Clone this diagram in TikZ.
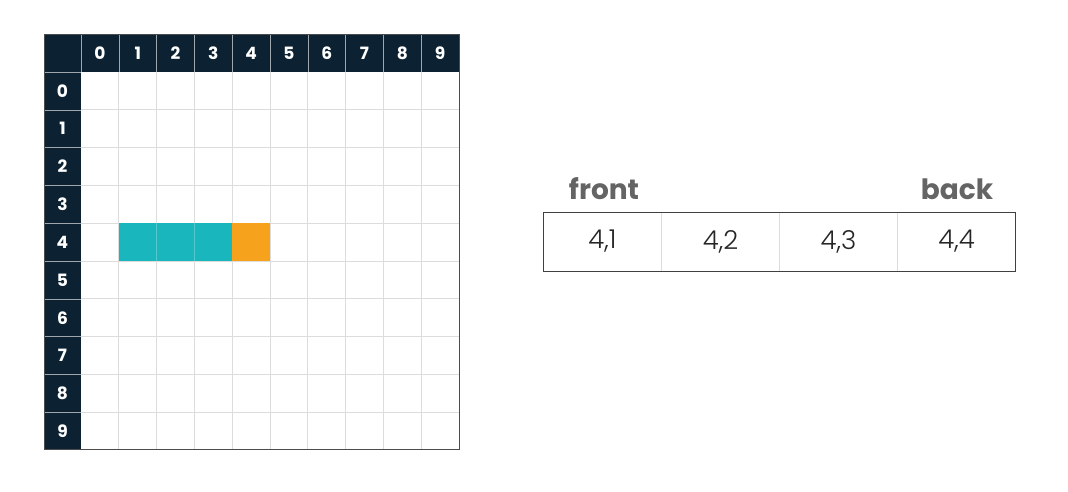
\documentclass[tikz,border=0pt]{standalone}
\usepackage{fontspec}
\setmainfont{Poppins}
\newfontfamily\lightfont{Poppins}[UprightFont=* Light]
\newfontfamily\boldfont{Poppins}[UprightFont=* Bold]
\definecolor{navy}{RGB}{12,34,50}
\definecolor{tealc}{RGB}{26,182,190}
\definecolor{orangec}{RGB}{247,162,28}
\definecolor{gridc}{RGB}{220,220,220}
\definecolor{labelc}{RGB}{100,100,100}
\begin{document}
\begin{tikzpicture}[x=1pt,y=-1pt,
  hdr/.style={font=\boldfont\fontsize{17}{17}\selectfont, text=white},
  qlab/.style={font=\boldfont\fontsize{28}{28}\selectfont, text=labelc},
  qval/.style={font=\lightfont\fontsize{26}{26}\selectfont, text=black!85},
  cellbox/.style={minimum width=118pt, minimum height=59pt, inner sep=0pt, outer sep=0pt}]
\useasboundingbox (0,0) rectangle (1068,491);
\fill[white] (0,0) rectangle (1068,491);
% grid
\def\cw{37.8}
\fill[navy] (44,34) rectangle (459,72);
\fill[navy] (44,34) rectangle (81,449);
\foreach \i in {1,...,9} {
  \draw[gridc, line width=0.8pt] ({81+\i*\cw},72) -- ({81+\i*\cw},449);
  \draw[gridc, line width=0.8pt] (81,{72+\i*\cw}) -- (459,{72+\i*\cw});
  \draw[white!60!navy, line width=0.6pt] ({81+\i*\cw},34) -- ({81+\i*\cw},72);
  \draw[white!60!navy, line width=0.6pt] (44,{72+\i*\cw}) -- (81,{72+\i*\cw});
}
\draw[white!60!navy, line width=0.6pt] (81,34) -- (81,72);
\draw[white!60!navy, line width=0.6pt] (44,72) -- (81,72);
\fill[tealc] ({81+\cw},{72+4*\cw}) rectangle ({81+4*\cw},{72+5*\cw});
\fill[orangec] ({81+4*\cw},{72+4*\cw}) rectangle ({81+5*\cw},{72+5*\cw});
\draw[white!25!tealc, line width=0.6pt] ({81+2*\cw},{72+4*\cw}) -- ({81+2*\cw},{72+5*\cw});
\draw[white!25!tealc, line width=0.6pt] ({81+3*\cw},{72+4*\cw}) -- ({81+3*\cw},{72+5*\cw});
\draw[black!70, line width=1pt] (44,34) rectangle (459,449);
\foreach \i in {0,...,9} {
  \node[hdr] (c\i) at ({81+(\i+0.5)*\cw},53) {\i};
  \node[hdr] (r\i) at (62.5,{72+(\i+0.5)*\cw}) {\i};
}
% queue
\node[cellbox] (q1) at (602.5,241.5) {};
\node[cellbox] (q2) at (720.5,241.5) {};
\node[cellbox] (q3) at (838.5,241.5) {};
\node[cellbox] (q4) at (956.5,241.5) {};
\draw[gridc, line width=0.8pt] (q1.north east) -- (q1.south east);
\draw[gridc, line width=0.8pt] (q2.north east) -- (q2.south east);
\draw[gridc, line width=0.8pt] (q3.north east) -- (q3.south east);
\draw[black!75, line width=1pt] (q1.north west) rectangle (q4.south east);
\node[qval] at (q1) {4,1};
\node[qval] at (q2) {4,2};
\node[qval] at (q3) {4,3};
\node[qval] at (q4) {4,4};
\node[qlab] (front) at (604,189) {front};
\node[qlab] (back) at (957,189) {back};
\end{tikzpicture}
\end{document}
